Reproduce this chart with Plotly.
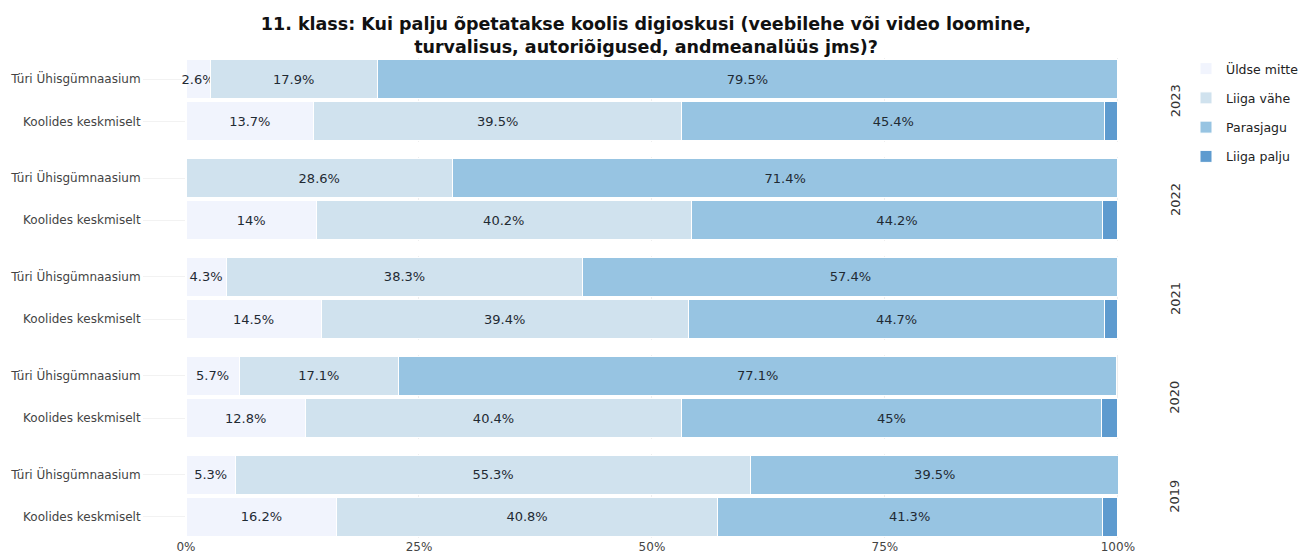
import plotly.graph_objects as go
from plotly.subplots import make_subplots

years = ["2023", "2022", "2021", "2020", "2019"]
schools = ["Türi Ühisgümnaasium", "Koolides keskmiselt"]
categories = ["Üldse mitte", "Liiga vähe", "Parasjagu", "Liiga palju"]
colors = ["#F1F4FD", "#D0E2EE", "#97C4E2", "#5E9BCF"]

# values per year: [Türi, Koolides] for each category
uldse_mitte = {"2023": [2.6, 13.7], "2022": [0, 14], "2021": [4.3, 14.5], "2020": [5.7, 12.8], "2019": [5.3, 16.2]}
liiga_vahe = {"2023": [17.9, 39.5], "2022": [28.6, 40.2], "2021": [38.3, 39.4], "2020": [17.1, 40.4], "2019": [55.3, 40.8]}
parasjagu = {"2023": [79.5, 45.4], "2022": [71.4, 44.2], "2021": [57.4, 44.7], "2020": [77.1, 45], "2019": [39.5, 41.3]}
liiga_palju = {"2023": [0, 1.4], "2022": [0, 1.6], "2021": [0, 1.4], "2020": [0, 1.8], "2019": [0, 1.7]}
series = [uldse_mitte, liiga_vahe, parasjagu, liiga_palju]

# page body has an 8px margin, so the figure is offset by 8px
W, H = 1299, 552

fig = make_subplots(rows=5, cols=1, shared_xaxes=True, vertical_spacing=0.03)

for r, yr in enumerate(years, start=1):
    for ci, (cat, data) in enumerate(zip(categories, series)):
        vals = [v / 100 for v in data[yr]]
        texts = [f"{v:g}%" if v >= 2 else "" for v in data[yr]]
        fig.add_trace(go.Bar(
            y=schools, x=vals, orientation="h", name=cat,
            marker=dict(color=colors[ci], line=dict(color="white", width=1)),
            text=texts, textposition="inside", insidetextanchor="middle", textangle=0,
            textfont=dict(color="#1f2a33", size=13), constraintext="none", cliponaxis=False,
            showlegend=(r == 1), legendgroup=cat,
            hovertemplate="%{y}: %{x:.1%}<extra>" + cat + "</extra>",
        ), row=r, col=1)
    fig.update_yaxes(categoryorder="array", categoryarray=schools[::-1], row=r, col=1,
                     ticks="outside", ticklen=42, tickcolor="#f2f2f2", automargin=False,
                     tickfont=dict(size=12, color="#444"), showgrid=False)
    fig.add_annotation(text=yr, textangle=-90, xref="paper", yref=f"y{'' if r == 1 else r} domain",
                       x=1.06, y=0.5, xanchor="center", yanchor="middle", showarrow=False,
                       font=dict(size=13, color="#333"))

fig.update_xaxes(range=[0, 1.0012], tickformat=".0%", tickvals=[0, 0.25, 0.5, 0.75, 1], automargin=False,
                 gridcolor="#eeeeee", zeroline=False, tickfont=dict(size=12, color="#444"))
fig.update_layout(
    barmode="stack", bargap=0.08,
    width=W, height=H,
    margin=dict(l=178, r=188, t=50, b=22, autoexpand=False),
    plot_bgcolor="white", paper_bgcolor="white",
    font=dict(family="DejaVu Sans", size=12, color="#333"),
    title=dict(text="<b>11. klass: Kui palju õpetatakse koolis digioskusi (veebilehe või video loomine,<br>turvalisus, autoriõigused, andmeanalüüs jms)?</b>",
               x=638 / W, xanchor="center", yref="container", y=1 - 22 / H, yanchor="middle",
               font=dict(size=17.5, color="#111")),
    legend=dict(xref="container", yref="container", x=1178 / W, y=1 - 46 / H,
                xanchor="left", yanchor="top", font=dict(size=12.5, color="#222"),
                tracegroupgap=10, traceorder="grouped"),
    uniformtext=dict(minsize=13, mode="show"),
)

fig.write_html("out.html")
